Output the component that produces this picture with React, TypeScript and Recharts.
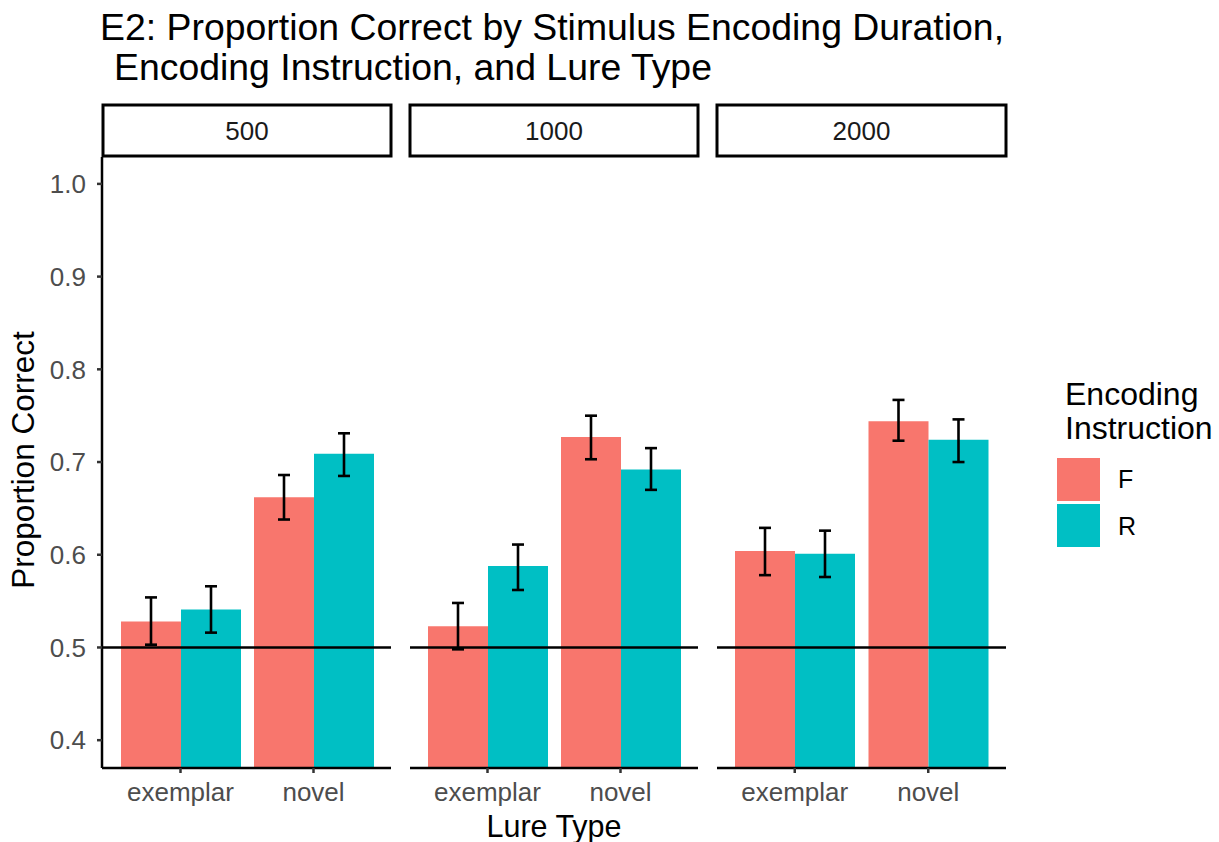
import React from 'react';
import { BarChart, Bar, XAxis, YAxis, ErrorBar, ReferenceLine } from 'recharts';

const durations = ['500', '1000', '2000'];
const lureTypes = ['exemplar', 'novel'];

// per duration: [exemplar, novel]
const fMean = [[0.528, 0.662], [0.523, 0.727], [0.604, 0.744]];
const fLow = [[0.503, 0.638], [0.498, 0.703], [0.578, 0.723]];
const fHigh = [[0.554, 0.686], [0.548, 0.750], [0.629, 0.767]];
const rMean = [[0.541, 0.709], [0.588, 0.692], [0.601, 0.724]];
const rLow = [[0.516, 0.685], [0.562, 0.670], [0.576, 0.700]];
const rHigh = [[0.566, 0.731], [0.611, 0.715], [0.626, 0.746]];

const yTicks = [0.4, 0.5, 0.6, 0.7, 0.8, 0.9, 1.0];

const F_COLOR = '#F8766D';
const R_COLOR = '#00BFC4';
const FONT = '"Liberation Sans", Arial, sans-serif';

// plot area left/right for each facet panel
const panels = [
  { left: 102, right: 391 },
  { left: 410, right: 698 },
  { left: 717, right: 1006 },
];
const PLOT_TOP = 157;
const PLOT_BOTTOM = 768;
const X_AXIS_H = 45;

function buildRows(d: number) {
  return lureTypes.map((lt, i) => ({
    lure: lt,
    F: fMean[d][i],
    R: rMean[d][i],
    fErr: [fMean[d][i] - fLow[d][i], fHigh[d][i] - fMean[d][i]],
    rErr: [rMean[d][i] - rLow[d][i], rHigh[d][i] - rMean[d][i]],
  }));
}

function Panel({ d }: { d: number }) {
  const p = panels[d];
  const showY = d === 0;
  const yW = showY ? p.left : 0;
  const chartLeft = showY ? 0 : p.left;
  const width = p.right - chartLeft;
  const height = PLOT_BOTTOM - PLOT_TOP + X_AXIS_H;
  return (
    <div style={{ position: 'absolute', left: chartLeft, top: PLOT_TOP }}>
      <BarChart
        width={width}
        height={height}
        data={buildRows(d)}
        margin={{ top: 0, right: 0, bottom: 0, left: 0 }}
        barGap={0}
        barSize={60}
      >
        <XAxis
          dataKey="lure"
          height={X_AXIS_H}
          padding={{ left: showY ? 12 : 11, right: 11 }}
          axisLine={{ stroke: '#000', strokeWidth: 2.5 }}
          tickLine={{ stroke: '#333', strokeWidth: 2.5 }}
          tickSize={5}
          tickMargin={10}
          tick={{ fill: '#4D4D4D', fontSize: 26, fontFamily: FONT }}
        />
        <YAxis
          hide={!showY}
          width={yW}
          type="number"
          domain={[0.37, 1.029]}
          ticks={yTicks}
          allowDataOverflow
          tickFormatter={(v: number) => v.toFixed(1)}
          axisLine={{ stroke: '#000', strokeWidth: 2.5 }}
          tickLine={{ stroke: '#333', strokeWidth: 2.5 }}
          tickSize={5}
          tickMargin={11}
          tick={{ fill: '#4D4D4D', fontSize: 26, fontFamily: FONT }}
        />
        <Bar dataKey="F" fill={F_COLOR} isAnimationActive={false}>
          <ErrorBar dataKey="fErr" width={6} stroke="#000" strokeWidth={2.6} direction="y" />
        </Bar>
        <Bar dataKey="R" fill={R_COLOR} isAnimationActive={false}>
          <ErrorBar dataKey="rErr" width={6} stroke="#000" strokeWidth={2.6} direction="y" />
        </Bar>
        <ReferenceLine y={0.5} stroke="#000" strokeWidth={2.4} ifOverflow="visible" />
      </BarChart>
    </div>
  );
}

export default function App() {
  return (
    <div
      style={{
        position: 'fixed', left: 0, top: 0, width: 1219, height: 842,
        background: '#fff', fontFamily: FONT,
      }}
    >
      {durations.map((_, d) => <Panel key={d} d={d} />)}
      <svg width={1219} height={842} style={{ position: 'absolute', left: 0, top: 0, pointerEvents: 'none' }}>
        <g fontFamily={FONT}>
          <text x={100} y={40} fontSize={37.4} fill="#000">
            E2: Proportion Correct by Stimulus Encoding Duration,
          </text>
          <text x={114} y={80} fontSize={37.4} fill="#000">
            Encoding Instruction, and Lure Type
          </text>

          {durations.map((lbl, d) => {
            const p = panels[d];
            const l = d === 0 ? 103 : p.left;
            return (
              <g key={lbl}>
                <rect x={l} y={105} width={p.right - l} height={51} fill="#fff" stroke="#000" strokeWidth={3} />
                <text x={(l + p.right) / 2} y={140} fontSize={26} textAnchor="middle" fill="#1A1A1A">
                  {lbl}
                </text>
              </g>
            );
          })}

          <text x={554} y={837} fontSize={30.5} textAnchor="middle" fill="#000">Lure Type</text>
          <text x={34} y={460} fontSize={31.5} textAnchor="middle" fill="#000" transform="rotate(-90 34 460)">
            Proportion Correct
          </text>

          <text x={1065} y={405} fontSize={32} fill="#000">Encoding</text>
          <text x={1065} y={439} fontSize={32} fill="#000">Instruction</text>
          <rect x={1057} y={458} width={43} height={43} fill={F_COLOR} />
          <rect x={1057} y={504} width={43} height={43} fill={R_COLOR} />
          <text x={1118} y={488} fontSize={25} fill="#000">F</text>
          <text x={1118} y={535} fontSize={25} fill="#000">R</text>
        </g>
      </svg>
    </div>
  );
}
